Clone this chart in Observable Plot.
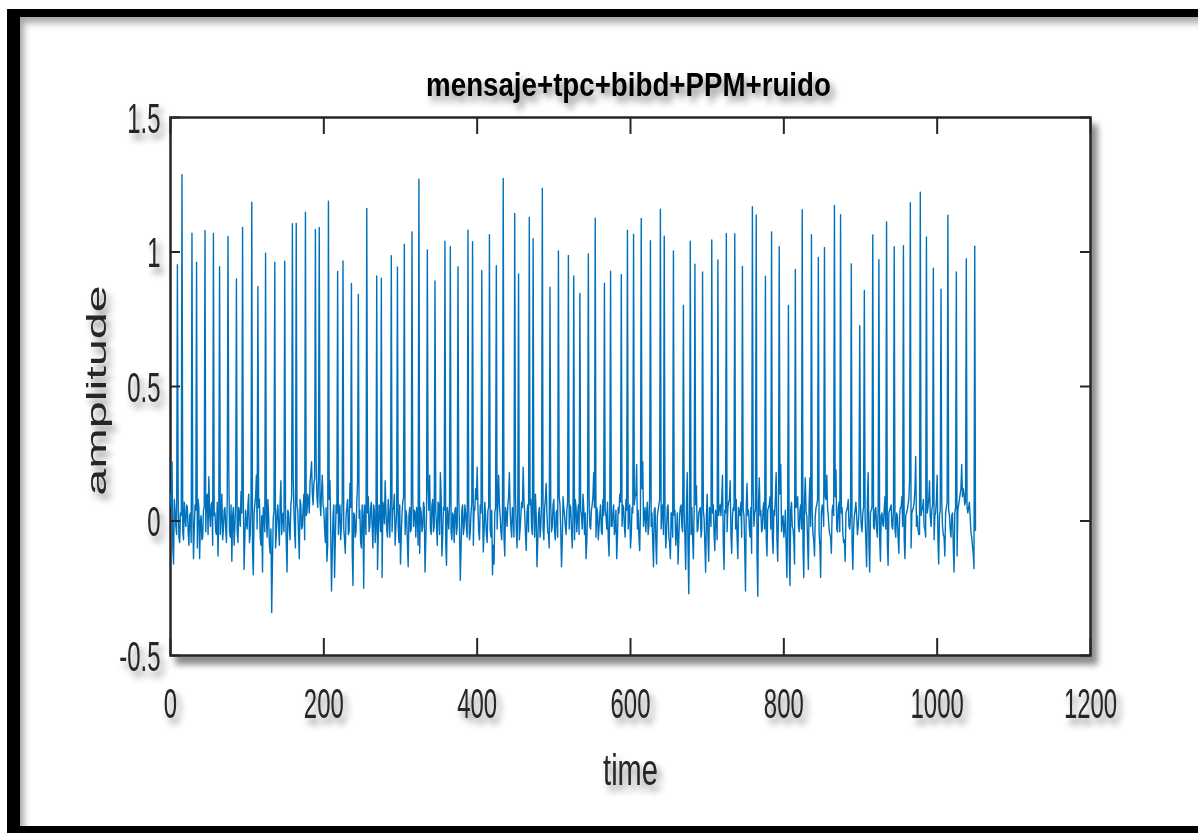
<!DOCTYPE html>
<html><head><meta charset="utf-8">
<script src="https://cdn.jsdelivr.net/npm/d3@7"></script>
<script src="https://cdn.jsdelivr.net/npm/@observablehq/plot@0.6"></script>
<style>
html,body{margin:0;padding:0;background:#fff;}
#wrap{position:relative;width:1198px;height:833px;overflow:hidden;background:#fff;}
#chart{position:absolute;left:0;top:0;}
#border{position:absolute;left:7px;top:9px;right:-30px;bottom:0;border-left:13px solid #000;border-top:8px solid #000;border-bottom:7px solid #000;box-shadow:inset 7px 9px 7px -3px rgba(0,0,0,0.35);pointer-events:none;}
</style></head><body>
<div id="wrap"><div id="chart"></div><div id="border"></div></div>
<script>
const titleText = "mensaje+tpc+bibd+PPM+ruido";
const xLabel = "time";
const yLabel = "amplitude";
const xTicks = [0, 200, 400, 600, 800, 1000, 1200];
const yTicks = [-0.5, 0, 0.5, 1, 1.5];

// noise samples at even times t = 0, 2, 4, ... 1050
const noiseEven = [
0.10,0.22,-0.16,0.04,-0.05,0.09,-0.08,0.02,-0.04,0.07,
-0.02,0.05,-0.09,0.03,-0.01,-0.14,0.06,-0.03,0.08,-0.14,
0.02,-0.06,0.05,-0.04,0.10,0.165,-0.02,0.07,-0.15,0.03,
-0.05,-0.13,0.19,0.02,-0.07,0.04,-0.03,0.08,0.20,-0.06,
-0.15,0.05,-0.02,0.09,-0.08,0.03,0.11,-0.07,-0.18,0.04,
-0.03,0.10,-0.05,0.02,-0.20,0.06,0.17,-0.04,0.08,-0.09,
-0.19,0.03,0.07,-0.06,0.02,-0.12,-0.34,0.01,-0.28,-0.05,
0.06,-0.09,0.15,0.02,-0.04,0.05,-0.19,0.03,-0.07,0.09,
0.16,-0.05,-0.22,0.04,-0.14,0.06,-0.02,0.10,-0.06,0.03,
0.08,0.14,0.22,0.06,0.16,0.21,0.05,0.12,0.02,0.17,
0.04,-0.08,-0.15,0.05,0.15,-0.26,0.02,-0.21,0.06,-0.20,
0.03,-0.07,0.08,-0.03,-0.12,0.05,-0.05,0.14,-0.09,-0.24,
0.02,-0.04,0.14,0.01,-0.08,0.06,-0.25,0.03,-0.05,0.09,
-0.02,0.07,-0.10,0.04,-0.03,-0.18,0.06,-0.04,-0.21,0.05,
0.15,-0.03,0.08,-0.06,-0.165,0.04,0.10,-0.02,0.06,-0.08,
-0.16,0.03,0.09,-0.05,0.02,-0.17,0.05,-0.03,0.08,0.04,
-0.06,0.02,-0.27,0.05,-0.04,0.07,-0.19,0.03,0.12,0.17,
-0.05,0.08,-0.02,0.04,-0.09,0.06,0.18,-0.13,0.05,0.10,
-0.165,0.02,0.07,-0.04,0.03,-0.08,0.05,-0.02,0.09,-0.22,
0.04,-0.05,0.06,-0.03,0.08,-0.07,0.03,-0.21,0.05,0.12,
0.20,-0.04,0.06,-0.02,-0.115,0.07,-0.05,0.04,0.10,-0.06,
-0.20,-0.16,0.05,-0.03,0.17,0.02,-0.07,0.08,-0.13,0.03,
0.06,0.18,-0.02,0.05,-0.06,0.09,-0.10,0.04,-0.03,0.07,
0.20,0.03,-0.11,0.06,-0.02,0.08,-0.05,0.03,0.10,-0.17,
0.02,-0.06,0.07,-0.03,0.05,0.14,-0.04,-0.10,0.06,-0.02,
0.08,-0.07,0.04,0.21,0.06,-0.17,0.09,0.02,-0.05,0.07,
-0.03,0.05,-0.10,0.03,0.08,-0.04,0.06,-0.08,0.02,0.10,
-0.05,-0.14,0.04,0.09,-0.03,0.06,0.18,-0.02,0.05,-0.07,
0.03,-0.04,0.08,-0.06,0.02,0.07,-0.13,0.04,-0.02,0.06,
-0.03,-0.14,0.05,0.10,-0.04,0.06,-0.02,0.08,-0.05,0.03,
-0.10,0.05,-0.02,0.09,0.21,0.04,-0.11,0.06,0.22,0.02,
-0.04,0.07,-0.02,0.18,0.03,-0.17,0.05,-0.16,0.04,0.08,
-0.03,0.06,0.02,-0.10,0.05,-0.06,-0.14,0.03,-0.12,0.04,
-0.05,-0.16,0.02,0.06,-0.04,0.03,-0.18,0.18,-0.27,0.02,
0.05,-0.14,0.07,0.13,-0.03,0.04,-0.06,0.08,0.01,-0.19,
0.10,-0.15,0.04,-0.03,0.06,-0.11,0.02,-0.12,0.05,0.02,
0.17,-0.18,0.03,-0.04,0.07,0.15,-0.12,0.05,-0.02,0.08,
-0.14,0.03,0.07,-0.14,0.02,-0.26,0.14,0.04,-0.06,-0.12,
0.12,0.03,-0.05,-0.28,0.16,0.04,-0.03,0.07,-0.05,-0.13,
0.05,0.09,-0.04,-0.12,0.02,0.18,-0.15,0.06,0.21,0.01,
-0.06,0.04,-0.21,0.03,-0.24,0.07,-0.03,-0.16,0.05,0.09,
-0.04,0.06,-0.08,-0.21,0.16,0.02,-0.18,0.16,0.03,-0.05,
-0.13,0.05,0.08,-0.04,-0.21,0.06,-0.02,0.09,0.17,0.02,
-0.05,-0.12,0.06,0.03,0.19,-0.04,0.07,-0.02,0.05,-0.08,
-0.15,0.04,0.08,-0.03,0.05,-0.18,0.02,0.07,-0.05,0.03,
0.06,-0.04,0.05,0.02,-0.17,0.18,-0.19,0.04,0.08,-0.03,
0.05,-0.06,0.07,-0.15,0.03,-0.02,0.09,-0.05,-0.165,0.04,
0.06,-0.03,0.08,-0.06,0.02,-0.12,0.05,0.09,-0.04,-0.14,
0.03,0.06,0.15,-0.10,0.04,0.07,0.24,0.02,-0.05,-0.11,
0.04,0.08,-0.03,-0.13,0.05,0.15,-0.02,0.06,-0.07,0.03,
0.17,-0.16,0.04,0.07,-0.05,-0.13,0.05,0.11,0.02,-0.06,
0.03,-0.19,0.05,-0.13,0.06,0.10,0.21,0.12,0.06,0.09,
0.03,0.07,-0.04,-0.09,-0.177,-0.035
];
// noise samples at odd times t = 1, 3, 5, ... 1049
const noiseOdd = [
0.05,-0.10,0.08,-0.02,0.04,-0.06,0.03,0.09,-0.07,0.01,
0.06,-0.04,0.02,-0.08,0.07,-0.03,0.04,-0.10,0.05,0.00,
-0.07,0.04,-0.02,0.08,-0.05,0.03,0.06,-0.09,0.02,-0.04,
0.07,0.03,-0.05,0.10,-0.03,0.05,-0.08,0.02,-0.04,0.06,
0.02,-0.09,0.06,-0.04,0.05,-0.02,0.03,0.08,-0.06,-0.01,
0.06,-0.08,0.04,-0.11,0.03,0.09,-0.03,0.05,-0.06,0.02,
0.05,-0.04,0.02,0.08,-0.09,-0.03,-0.15,0.04,-0.10,0.03,
-0.02,0.07,-0.05,0.03,0.09,-0.08,0.04,-0.03,0.06,-0.02,
0.04,-0.10,0.06,-0.05,0.08,-0.03,0.05,-0.07,0.02,0.10,
0.03,0.18,0.10,0.14,0.04,0.09,0.15,0.07,0.11,0.06,
-0.03,0.05,-0.09,0.08,-0.04,-0.12,0.06,-0.07,0.03,-0.05,
0.06,-0.02,0.04,-0.07,0.02,0.08,-0.04,0.05,-0.11,0.03,
-0.06,0.07,-0.03,0.04,-0.10,0.02,0.06,-0.05,0.03,-0.04,
0.05,-0.02,0.06,-0.08,0.03,-0.06,0.04,-0.09,0.07,-0.01,
0.04,-0.06,0.02,0.07,-0.04,0.05,-0.09,0.03,-0.02,0.06,
-0.05,0.07,-0.03,0.04,-0.08,0.02,-0.04,0.06,-0.02,0.03,
0.05,-0.09,-0.12,0.03,-0.02,0.05,-0.07,0.08,0.04,-0.03,
0.06,-0.04,0.03,-0.02,0.07,-0.05,0.09,-0.06,0.04,-0.08,
0.05,-0.03,0.06,-0.07,0.02,0.04,-0.05,0.07,-0.03,-0.10,
0.06,-0.02,0.03,-0.06,0.05,-0.04,0.07,-0.09,0.04,0.08,
0.05,-0.07,0.03,0.06,-0.04,0.02,-0.08,0.05,-0.03,0.04,
-0.09,0.03,-0.05,0.07,0.06,-0.04,0.02,-0.06,0.05,-0.02,
0.09,0.04,-0.06,0.03,0.06,-0.03,0.05,-0.07,0.02,0.05,
0.08,-0.05,0.03,-0.04,0.06,-0.02,0.04,-0.06,0.02,-0.08,
0.05,-0.02,0.04,-0.07,0.08,0.03,-0.05,0.02,-0.04,0.06,
-0.04,0.03,-0.06,0.09,-0.03,-0.08,0.05,-0.02,0.04,-0.05,
0.06,-0.03,0.02,-0.07,0.05,0.02,-0.05,0.04,-0.03,0.05,
0.03,-0.08,0.06,-0.02,0.04,0.09,0.05,-0.06,0.03,-0.02,
0.06,-0.05,0.02,0.04,-0.03,-0.07,0.05,-0.02,0.03,-0.05,
0.04,-0.06,0.03,0.07,-0.02,0.05,-0.06,0.04,-0.03,0.06,
-0.05,0.03,0.06,0.10,-0.03,-0.06,0.04,0.12,-0.02,0.05,
0.03,-0.05,0.09,-0.02,-0.08,0.04,-0.07,0.02,0.06,-0.03,
0.04,-0.05,0.02,-0.04,0.06,-0.08,0.03,-0.06,0.02,-0.09,
0.03,-0.07,0.05,-0.02,0.04,-0.06,0.06,-0.10,0.04,-0.05,
-0.06,0.04,0.06,-0.04,0.03,0.05,-0.03,0.04,-0.09,0.02,
-0.06,0.05,-0.02,0.03,-0.05,0.04,-0.07,0.02,0.06,0.09,
-0.08,0.04,-0.02,0.05,0.08,-0.05,0.02,0.04,-0.03,-0.06,
0.05,0.02,-0.06,0.04,-0.10,0.06,0.02,-0.03,0.05,0.04,
-0.02,0.04,-0.12,0.07,0.02,-0.04,0.05,-0.03,-0.06,0.04,
0.06,-0.03,-0.06,0.04,0.09,-0.07,0.03,0.10,-0.04,0.02,
-0.03,-0.09,0.02,-0.11,0.04,-0.02,-0.07,0.03,0.06,-0.02,
0.04,-0.03,-0.10,0.08,0.03,-0.08,0.07,-0.02,0.04,-0.07,
0.02,0.06,-0.02,-0.09,0.03,0.04,-0.04,0.08,0.05,-0.03,
-0.06,0.04,0.02,0.09,-0.03,0.05,-0.04,0.03,-0.05,-0.07,
0.03,0.05,-0.02,0.02,-0.08,-0.03,0.04,0.02,-0.02,0.04,
-0.02,0.03,-0.01,-0.08,0.08,-0.09,0.03,0.05,-0.02,0.04,
-0.03,0.04,-0.07,0.02,-0.01,0.05,-0.03,-0.08,0.03,0.05,
-0.02,0.04,-0.03,0.03,-0.06,0.02,0.05,-0.02,-0.07,0.02,
0.04,0.08,-0.04,0.03,0.05,0.12,-0.02,-0.03,-0.05,0.02,
0.05,-0.02,-0.06,0.03,0.08,0.02,0.04,-0.03,0.02,0.08,
-0.07,0.02,0.05,-0.02,-0.06,0.03,0.07,0.04,-0.03,0.02,
-0.09,0.03,-0.06,0.04,0.08,0.12,0.09,0.10,0.07,0.05,
0.05,0.02,-0.06,-0.12,-0.10
];

// PPM pulses: time position and peak amplitude
const spikeTime = [9,15,28,34,45,56,64,75,86,94,
106,114,124,136,149,159,164,176,189,194,
206,218,225,236,245,256,269,275,288,296,
305,315,324,335,345,358,365,375,388,394,
406,416,425,434,449,454,468,473,485,495,
506,519,526,534,545,554,566,574,588,596,
604,614,626,639,644,656,669,678,684,694,
706,714,725,736,746,759,764,776,784,794,
806,815,824,836,845,853,866,874,888,899,
905,916,924,934,944,956,965,978,986,995,
1005,1014,1025,1038,1049];
const spikeAmp = [0.953,1.287,1.070,0.962,1.080,1.069,0.945,1.058,0.900,1.091,
1.185,0.872,0.996,0.962,0.966,1.105,1.106,1.148,1.084,1.091,
1.189,0.928,0.967,0.883,0.842,1.162,0.911,0.903,0.986,0.944,
1.029,1.075,1.271,1.008,0.892,1.040,1.020,0.945,1.081,1.038,
0.931,1.064,0.949,1.273,1.143,0.918,1.128,1.049,1.237,0.869,
1.004,0.987,0.911,0.846,0.993,1.126,0.884,0.929,0.916,1.081,
1.066,1.125,1.042,1.159,1.059,1.004,0.801,1.040,0.955,0.926,
1.045,0.970,1.069,1.068,0.946,1.168,1.138,0.910,1.075,1.020,
0.801,0.935,1.157,1.064,0.980,1.017,1.173,1.139,0.956,0.726,
0.857,1.063,0.971,1.112,1.020,1.023,1.183,1.222,1.056,0.940,
0.862,1.137,0.926,0.975,1.022];

const spikeSet = new Set(spikeTime);
const series = noiseEven.map((v, i) => ({x: 2 * i, y: v}))
  .concat(noiseOdd.map((v, i) => ({x: 2 * i + 1, y: v})))
  .filter(p => !spikeSet.has(p.x))
  .concat(spikeTime.map((t, i) => ({x: t, y: spikeAmp[i]})))
  .sort((a, b) => a.x - b.x);

const ink = "#262626";
const chart = Plot.plot({
  width: 1198, height: 833,
  marginLeft: 170, marginRight: 108, marginTop: 117, marginBottom: 178,
  style: {fontFamily: "'Liberation Sans', Arial, Helvetica, sans-serif", color: ink, background: "transparent", overflow: "visible"},
  x: {domain: [0, 1200]},
  y: {domain: [-0.5, 1.5]},
  marks: [
    Plot.frame({fill: "white", stroke: ink, strokeWidth: 2.5}),
    Plot.line(series, {x: "x", y: "y", stroke: "#0072BD", strokeWidth: 1.4}),
    Plot.tickX(xTicks, {x: d => d, insetTop: 521, stroke: ink, strokeWidth: 2}),
    Plot.tickX(xTicks, {x: d => d, insetBottom: 521, stroke: ink, strokeWidth: 2}),
    Plot.tickY(yTicks, {y: d => d, insetRight: 910, stroke: ink, strokeWidth: 2}),
    Plot.tickY(yTicks, {y: d => d, insetLeft: 910, stroke: ink, strokeWidth: 2}),
    Plot.axisX(xTicks, {anchor: "bottom", tickSize: 0, tickPadding: 33, fontSize: 42, tickFormat: d => String(d), label: null, fill: ink}),
    Plot.axisY(yTicks, {anchor: "left", tickSize: 0, tickPadding: 10, dy: 2, fontSize: 42, tickFormat: d => String(d), label: null, fill: ink}),
    Plot.text([titleText], {text: d => d, frameAnchor: "top", lineAnchor: "top", dy: -46, dx: -2, fontSize: 34, fontWeight: "bold", fill: "#000"}),
    Plot.text([xLabel], {text: d => d, frameAnchor: "bottom", lineAnchor: "bottom", dy: 129, fontSize: 44, fill: ink}),
    Plot.text([yLabel], {text: d => d, frameAnchor: "left", textAnchor: "middle", rotate: -90, dx: -73, dy: 4, fontSize: 27, fill: ink})
  ]
});
document.getElementById("chart").appendChild(chart);

// drop shadows and the stretched (condensed) look of the original image
const ns = "http://www.w3.org/2000/svg";
const defs = document.createElementNS(ns, "defs");
defs.innerHTML =
  '<filter id="tsh" x="-20%" y="-30%" width="150%" height="180%"><feDropShadow dx="4" dy="6" stdDeviation="3.5" flood-color="#000" flood-opacity="0.45"/></filter>' +
  '<filter id="fsh" x="-5%" y="-5%" width="115%" height="115%"><feDropShadow dx="6" dy="8" stdDeviation="3" flood-color="#000" flood-opacity="0.45"/></filter>';
chart.insertBefore(defs, chart.firstChild);
const frame = chart.querySelector('[aria-label="frame"]');
if (frame) frame.setAttribute("filter", "url(#fsh)");
chart.querySelectorAll("text").forEach(t => {
  const s = t.textContent === titleText ? 0.815 : t.textContent === xLabel ? 0.66 : t.textContent === yLabel ? 1.8 : 0.57;
  let tr = t.getAttribute("transform") || "";
  const x = t.getAttribute("x");
  if (x != null) { t.removeAttribute("x"); tr += ` translate(${x},0)`; }
  t.setAttribute("transform", (tr + ` scale(${s},1)`).trim());
  if (t.parentNode && t.parentNode !== chart) t.parentNode.setAttribute("filter", "url(#tsh)");
});
</script>
</body></html>
